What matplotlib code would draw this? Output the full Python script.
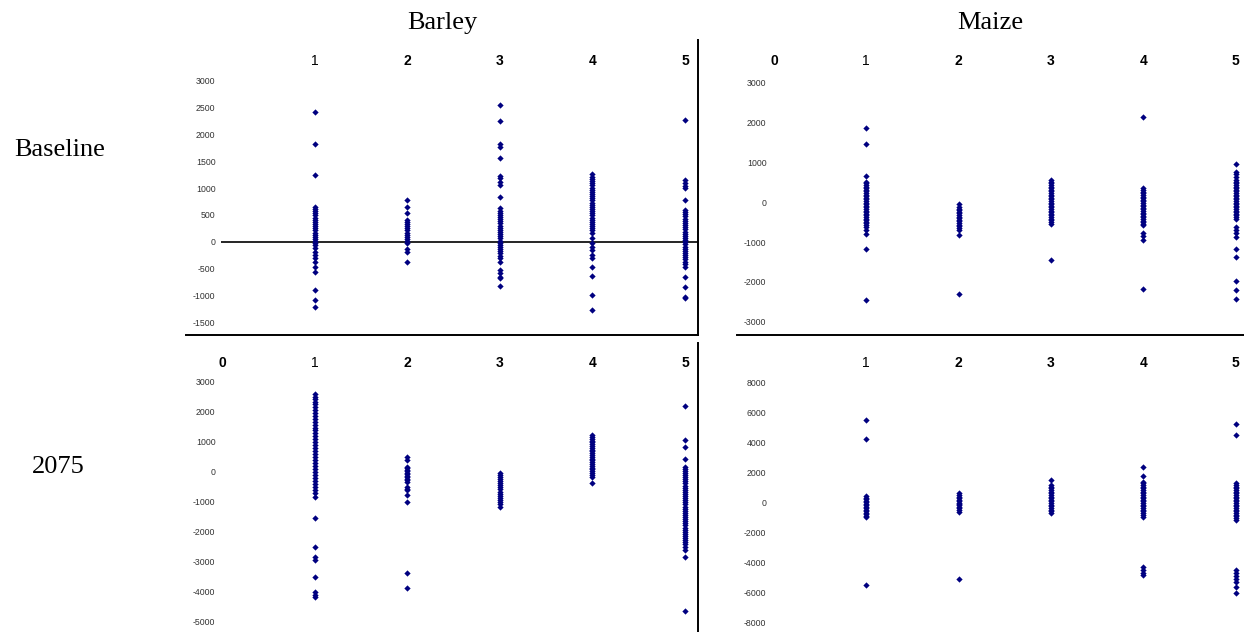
import matplotlib
matplotlib.use("Agg")
import matplotlib.pyplot as plt

# ---------------- data ----------------
categories = [0, 1, 2, 3, 4, 5]
crops = ["Barley", "Maize"]
periods = ["Baseline", "2075"]

barley_base = {
    1: [2425, 1823, 1244, 653, 610, 570, 530, 490, 450, 410, 370, 330, 290, 250, 210, 170, 130, 90, 50, 10,
        -30, -62, -124, -186, -248, -310, -373, -466, -571, -901, -1088, -1213],
    2: [778, 653, 530, 405, 370, 330, 290, 250, 210, 170, 130, 90, 50, 10, -30, -142, -186, -373],
    3: [2550, 2252, 1823, 1773, 1556, 1226, 1183, 1119, 1058, 840, 623, 580, 540, 500, 460, 420, 380, 340,
        300, 260, 220, 180, 140, 100, 60, 20, -20, -60, -100, -140, -180, -220, -260, -300, -373, -528, -590,
        -653, -683, -826],
    4: [1257, 1213, 1170, 1130, 1090, 1050, 1010, 970, 930, 890, 850, 810, 770, 730, 690, 650, 610, 570, 530,
        490, 450, 410, 370, 330, 290, 250, 210, 157, 63, -20, -90, -160, -248, -310, -466, -640, -994, -1274],
    5: [2270, 1151, 1100, 1040, 996, 778, 591, 550, 510, 470, 430, 390, 350, 310, 270, 230, 190, 150, 110, 70,
        30, -10, -50, -90, -130, -170, -210, -250, -290, -330, -370, -420, -466, -653, -840, -1026, -1056],
}
maize_base = {
    1: [1851, 1457, 653, 510, 470, 430, 390, 350, 310, 270, 230, 190, 150, 110, 70, 30, -10, -50, -90, -130,
        -170, -210, -250, -290, -330, -370, -410, -450, -490, -530, -580, -620, -704, -786, -1163, -2445],
    2: [-33, -118, -160, -200, -240, -280, -320, -360, -400, -440, -480, -520, -560, -600, -650, -704, -829, -2312],
    3: [553, 510, 470, 430, 390, 350, 310, 270, 230, 190, 150, 110, 70, 30, -10, -50, -90, -130, -170, -210,
        -250, -290, -330, -370, -410, -450, -490, -535, -1440],
    4: [2128, 344, 300, 260, 220, 180, 140, 100, 60, 20, -20, -60, -100, -140, -180, -220, -260, -300, -340,
        -380, -420, -460, -500, -540, -578, -771, -860, -955, -2168],
    5: [960, 769, 700, 643, 553, 510, 470, 430, 390, 350, 310, 270, 230, 190, 150, 110, 70, 30, -10, -50, -90,
        -130, -170, -210, -250, -290, -330, -370, -410, -620, -700, -780, -872, -1163, -1374, -1977, -2211, -2420],
}
barley_2075 = {
    1: [2580, 2500, 2420, 2340, 2250, 2150, 2050, 1950, 1850, 1750, 1650, 1560, 1470, 1380, 1290, 1200, 1100,
        1000, 900, 800, 700, 600, 500, 400, 300, 200, 100, 0, -100, -200, -300, -400, -500, -600, -700, -833,
        -1553, -2500, -2833, -2943, -3500, -4000, -4110, -4187],
    2: [500, 390, 167, 120, 70, 20, -30, -80, -130, -180, -230, -280, -333, -500, -560, -610, -777, -1000,
        -3387, -3887],
    3: [-33, -100, -170, -240, -310, -380, -450, -520, -590, -660, -730, -800, -870, -940, -1010, -1080, -1167],
    4: [1223, 1160, 1100, 1040, 980, 920, 860, 800, 740, 680, 620, 560, 500, 440, 380, 320, 260, 200, 140, 80,
        20, -40, -100, -167, -367],
    5: [2190, 1057, 833, 413, 167, 100, 30, -40, -110, -180, -250, -320, -390, -460, -530, -600, -670, -740,
        -810, -880, -950, -1020, -1090, -1160, -1230, -1300, -1370, -1440, -1510, -1580, -1650, -1720, -1790,
        -1860, -1930, -2000, -2070, -2140, -2210, -2280, -2350, -2420, -2500, -2610, -2833, -4633],
}
maize_2075 = {
    1: [5507, 4219, 434, 330, 230, 130, 30, -70, -170, -270, -370, -470, -570, -670, -770, -870, -988, -5507],
    2: [614, 500, 400, 300, 200, 100, 0, -100, -200, -300, -400, -500, -614, -5127],
    3: [1502, 1168, 1060, 950, 840, 730, 620, 510, 400, 290, 180, 70, -40, -150, -260, -370, -480, -590, -721],
    4: [2350, 1769, 1389, 1280, 1170, 1060, 950, 840, 730, 620, 510, 400, 290, 180, 70, -40, -150, -260, -370,
        -480, -590, -700, -820, -948, -4285, -4500, -4700, -4840],
    5: [5240, 4506, 1282, 1170, 1060, 950, 840, 730, 620, 510, 400, 290, 180, 70, -40, -150, -260, -370, -480,
        -590, -700, -810, -920, -1040, -1168, -4506, -4700, -4900, -5100, -5300, -5620, -6061],
}

yticks_barley_base = [3000, 2500, 2000, 1500, 1000, 500, 0, -500, -1000, -1500]
yticks_maize_base = [3000, 2000, 1000, 0, -1000, -2000, -3000]
yticks_barley_2075 = [3000, 2000, 1000, 0, -1000, -2000, -3000, -4000, -5000]
yticks_maize_2075 = [8000, 6000, 4000, 2000, 0, -2000, -4000, -6000, -8000]

# ---------------- figure ----------------
W, H = 1244, 632
fig = plt.figure(figsize=(W / 100, H / 100), dpi=100)

def px_axes(x0, y0, x1, y1):
    return fig.add_axes([x0 / W, 1 - y1 / H, (x1 - x0) / W, (y1 - y0) / H])

panels = [
    # data, yticks, rect(px), xlim, ylim, show_zero_label, row
    (barley_base, yticks_barley_base, (186, 40, 698, 335), (-0.389, 5.14), (-1741, 3763), False, 0),
    (maize_base, yticks_maize_base, (737, 40, 1244, 335), (-0.40, 5.092), (-3334, 4072), True, 0),
    (barley_2075, yticks_barley_2075, (186, 343, 698, 632), (-0.389, 5.14), (-5343, 4290), True, 1),
    (maize_2075, yticks_maize_2075, (737, 343, 1244, 632), (-0.40, 5.092), (-8645, 10648), False, 1),
]

navy = "#000080"
for idx, (data, yt, rect, xl, yl, show0, row) in enumerate(panels):
    ax = px_axes(*rect)
    ax.set_xlim(*xl)
    ax.set_ylim(*yl)
    for cat, vals in data.items():
        ax.plot([cat] * len(vals), vals, linestyle="none", marker="D", ms=3.2,
                mew=0, color=navy, zorder=3)
    # spines
    for s in ["top", "left"]:
        ax.spines[s].set_visible(False)
    ax.spines["right"].set_visible(idx in (0, 2))
    ax.spines["bottom"].set_visible(row == 0)
    for s in ["right", "bottom"]:
        ax.spines[s].set_linewidth(1.4)
    if idx == 0:
        ax.hlines(0, -0.01, xl[1], color="black", lw=1.2, zorder=2)
    # y tick labels (inside the panel)
    ax.set_yticks(yt)
    ax.set_yticklabels([str(v) for v in yt], fontsize=6.3, color="#333333",
                       family="Liberation Sans")
    ax.tick_params(axis="y", length=0, pad=-21.2)
    # x labels at top
    labels = [str(c) for c in categories]
    if not show0:
        labels[0] = ""
    ax.xaxis.tick_top()
    ax.set_xticks(categories)
    ax.set_xticklabels(labels, fontsize=10, family="Liberation Sans", fontweight="bold")
    for lbl in ax.get_xticklabels():
        lbl.set_va("center")
        if lbl.get_text() == "1":
            lbl.set_fontweight("normal")
    ax.tick_params(axis="x", length=0, pad=-(21.0 if row == 0 else 19.7) * 0.72)
    ax.patch.set_alpha(0)

serif = "Liberation Serif"
fig.text(442 / W, 1 - 23 / H, crops[0], ha="center", va="center", fontsize=19, family=serif)
fig.text(990 / W, 1 - 23 / H, crops[1], ha="center", va="center", fontsize=19, family=serif)
fig.text(60 / W, 1 - 150 / H, periods[0], ha="center", va="center", fontsize=19, family=serif)
fig.text(58 / W, 1 - 467 / H, periods[1], ha="center", va="center", fontsize=19, family=serif)

fig.savefig("out.png", dpi=100)
